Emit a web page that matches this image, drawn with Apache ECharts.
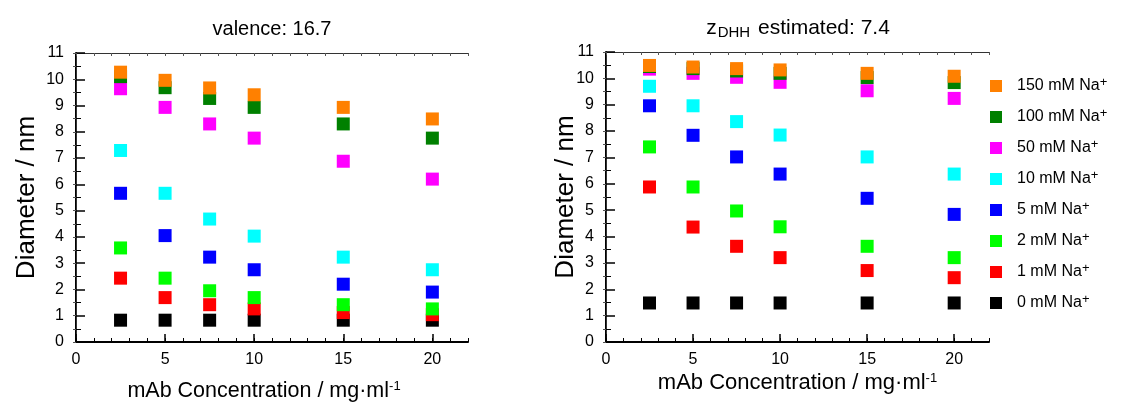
<!DOCTYPE html>
<html><head><meta charset="utf-8">
<script src="https://cdn.jsdelivr.net/npm/echarts@6/dist/echarts.min.js"></script>
<style>html,body{margin:0;padding:0;background:#fff}#c{width:1121px;height:403px}</style>
</head><body><div id="c"></div>
<script>
// mAb concentration (mg/ml)
const concentrations = [2.5, 5, 7.5, 10, 15, 20];
const saltNames = ['0 mM Na+', '1 mM Na+', '2 mM Na+', '5 mM Na+', '10 mM Na+', '50 mM Na+', '100 mM Na+', '150 mM Na+'];
const saltColors = ['#000000', '#ff0000', '#00ff00', '#0000ff', '#00ffff', '#ff00ff', '#008000', '#ff8000'];
const xTicks = [0, 5, 10, 15, 20];
const yTicks = [0, 1, 2, 3, 4, 5, 6, 7, 8, 9, 10, 11];

// Left panel (valence: 16.7) diameters in nm
const left_0mM   = [0.83, 0.83, 0.83, 0.83, 0.83, 0.83];
const left_1mM   = [2.43, 1.69, 1.42, 1.26, 1.12, 1.04];
const left_2mM   = [3.58, 2.43, 1.95, 1.69, 1.42, 1.26];
const left_5mM   = [5.66, 4.05, 3.23, 2.75, 2.20, 1.90];
const left_10mM  = [7.29, 5.66, 4.68, 4.03, 3.23, 2.75];
const left_50mM  = [9.64, 8.93, 8.30, 7.76, 6.88, 6.20];
const left_100mM = [10.10, 9.68, 9.27, 8.93, 8.30, 7.76];
const left_150mM = [10.27, 9.96, 9.67, 9.41, 8.93, 8.49];

// Right panel (z_DHH estimated: 7.4) diameters in nm
const right_0mM   = [1.48, 1.48, 1.48, 1.48, 1.48, 1.48];
const right_1mM   = [5.88, 4.36, 3.63, 3.20, 2.71, 2.44];
const right_2mM   = [7.40, 5.88, 4.97, 4.37, 3.63, 3.20];
const right_5mM   = [8.96, 7.84, 7.02, 6.37, 5.45, 4.84];
const right_10mM  = [9.70, 8.96, 8.36, 7.85, 7.02, 6.37];
const right_50mM  = [10.35, 10.19, 10.04, 9.85, 9.53, 9.24];
const right_100mM = [10.45, 10.37, 10.28, 10.19, 10.03, 9.84];
const right_150mM = [10.49, 10.43, 10.37, 10.32, 10.19, 10.08];

const leftSets = [left_0mM, left_1mM, left_2mM, left_5mM, left_10mM, left_50mM, left_100mM, left_150mM];
const rightSets = [right_0mM, right_1mM, right_2mM, right_5mM, right_10mM, right_50mM, right_100mM, right_150mM];

const FONT = 'Liberation Sans, Arial, sans-serif';
const chart = echarts.init(document.getElementById('c'), null, {renderer: 'canvas'});

const grids = [
  {left: 76, top: 53, width: 392, height: 289},
  {left: 606, top: 52, width: 383, height: 290}
];
const xNameGap = [38, 30];
const xNameSize = [21.5, 22];
const xNamePad = [[0, 16, 0, 0], [0, 0, 0, 0]];
const yNameGap = [36, 27];
const supRich = {
  sup: {fontSize: 13, lineHeight: 13, verticalAlign: 'top', padding: [0, 0, 8, 0], fontFamily: FONT, color: '#000'}
};

const xAxes = [], yAxes = [], series = [];
grids.forEach((g, gi) => {
  xAxes.push({
    gridIndex: gi, type: 'value', position: 'bottom', min: 0, max: 22, interval: 5,
    name: 'mAb Concentration / mg·ml{sup|-1}', nameLocation: 'middle', nameGap: xNameGap[gi],
    nameMoveOverlap: false,
    nameTextStyle: {fontSize: xNameSize[gi], color: '#000', fontFamily: FONT, padding: xNamePad[gi],
      rich: {sup: {fontSize: 13, lineHeight: 13, verticalAlign: 'top', padding: [0, 0, 10, 0], fontFamily: FONT, color: '#000'}}},
    axisLine: {show: true, lineStyle: {color: '#000', width: 2}},
    axisTick: {show: true, inside: true, length: 8, lineStyle: {color: '#000', width: 1.5}},
    axisLabel: {fontSize: 16, color: '#000', fontFamily: FONT, margin: 10, showMaxLabel: false,
      formatter: v => (xTicks.indexOf(v) >= 0 ? String(v) : '')},
    splitLine: {show: false}
  });
  xAxes.push({
    gridIndex: gi, type: 'value', position: 'bottom', min: 0, max: 22, interval: 1,
    axisLine: {show: false}, axisLabel: {show: false}, splitLine: {show: false},
    axisTick: {show: true, inside: true, length: 4, lineStyle: {color: '#000', width: 1}}
  });
  xAxes.push({
    gridIndex: gi, type: 'value', position: 'top', min: 0, max: 22, interval: 1,
    axisLine: {show: true, lineStyle: {color: '#333', width: 1}}, axisLabel: {show: false}, splitLine: {show: false},
    axisTick: {show: true, inside: true, length: 3, lineStyle: {color: '#555', width: 1}}
  });
  yAxes.push({
    gridIndex: gi, type: 'value', position: 'left', min: 0, max: 11, interval: 1,
    name: 'Diameter / nm', nameLocation: 'middle', nameGap: yNameGap[gi],
    nameMoveOverlap: false,
    nameTextStyle: {fontSize: 26, color: '#000', fontFamily: FONT},
    axisLine: {show: true, lineStyle: {color: '#000', width: 2}},
    axisTick: {show: true, inside: true, length: 9, lineStyle: {color: '#000', width: 1.5}},
    minorTick: {show: true, splitNumber: 2, length: 5, lineStyle: {color: '#000', width: 1}},
    axisLabel: {fontSize: 16, color: '#000', fontFamily: FONT, margin: 12,
      formatter: v => (yTicks.indexOf(v) >= 0 ? String(v) : '')},
    splitLine: {show: false}
  });
  yAxes.push({
    gridIndex: gi, type: 'value', position: 'right', min: 0, max: 11, interval: 0.5,
    axisLine: {show: true, lineStyle: {color: '#333', width: 1}}, axisLabel: {show: false}, splitLine: {show: false},
    axisTick: {show: true, inside: true, length: 3, lineStyle: {color: '#555', width: 1}}
  });
  const sets = gi === 0 ? leftSets : rightSets;
  sets.forEach((vals, si) => {
    series.push({
      type: 'scatter', name: saltNames[si], xAxisIndex: gi * 3, yAxisIndex: gi * 2,
      symbol: 'rect', symbolSize: 13, z: 2 + si,
      itemStyle: {color: saltColors[si], opacity: 1},
      emphasis: {disabled: true},
      data: concentrations.map((c, k) => [c, vals[k]])
    });
  });
});

chart.setOption({
  animation: false,
  backgroundColor: '#fff',
  grid: grids.map(g => Object.assign({containLabel: false, outerBoundsMode: 'none'}, g)),
  title: [
    {text: 'valence: 16.7', left: 267, top: 14, textAlign: 'center',
     textStyle: {fontSize: 20, fontWeight: 'normal', color: '#000', fontFamily: FONT}},
    {text: 'z{sub|DHH} estimated: 7.4', left: 793, top: 11, textAlign: 'center',
     textStyle: {fontSize: 21, fontWeight: 'normal', color: '#000', fontFamily: FONT, lineHeight: 24,
       rich: {sub: {fontSize: 15, lineHeight: 15, verticalAlign: 'bottom', padding: [12, 2, 0, 1], fontFamily: FONT, color: '#000'}}}}
  ],
  legend: {
    orient: 'vertical', left: 990, top: 76, padding: 0, itemGap: 10, itemWidth: 12, itemHeight: 12,
    icon: 'rect', selectedMode: false,
    data: saltNames.slice().reverse(),
    formatter: n => n.replace('+', '') + '{sup|+}',
    textStyle: {fontSize: 16, color: '#000', fontFamily: FONT, lineHeight: 20, padding: [0, 0, 0, 10], rich: supRich}
  },
  xAxis: xAxes,
  yAxis: yAxes,
  series: series
});
</script></body></html>
